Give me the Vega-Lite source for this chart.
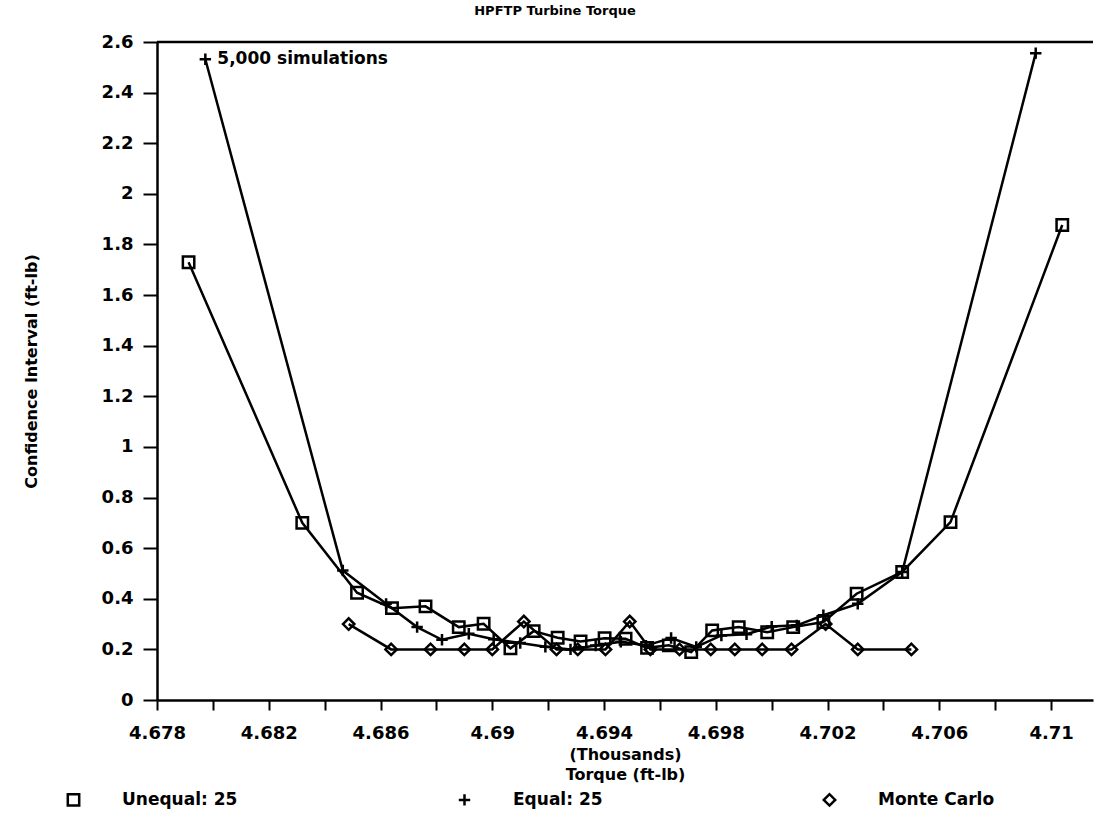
{
  "$schema": "https://vega.github.io/schema/vega-lite/v6.json",
  "width": 936,
  "height": 658,
  "autosize": "none",
  "padding": {"left": 157, "top": 42, "right": 2, "bottom": 114},
  "background": "white",
  "title": {"text": "HPFTP Turbine Torque", "font": "DejaVu Sans", "fontSize": 13, "fontWeight": "bold", "color": "black", "dx": -70, "offset": 15},
  "datasets": {
    "main": [
      {"series": "Unequal: 25", "torque": 4.67913, "ci": 1.73},
      {"series": "Unequal: 25", "torque": 4.6832, "ci": 0.70},
      {"series": "Unequal: 25", "torque": 4.68516, "ci": 0.424},
      {"series": "Unequal: 25", "torque": 4.68641, "ci": 0.363},
      {"series": "Unequal: 25", "torque": 4.68761, "ci": 0.37},
      {"series": "Unequal: 25", "torque": 4.6888, "ci": 0.288},
      {"series": "Unequal: 25", "torque": 4.68969, "ci": 0.301},
      {"series": "Unequal: 25", "torque": 4.69065, "ci": 0.204},
      {"series": "Unequal: 25", "torque": 4.69148, "ci": 0.272},
      {"series": "Unequal: 25", "torque": 4.69234, "ci": 0.246},
      {"series": "Unequal: 25", "torque": 4.69316, "ci": 0.231},
      {"series": "Unequal: 25", "torque": 4.69402, "ci": 0.244},
      {"series": "Unequal: 25", "torque": 4.69477, "ci": 0.242},
      {"series": "Unequal: 25", "torque": 4.69554, "ci": 0.206},
      {"series": "Unequal: 25", "torque": 4.69632, "ci": 0.216},
      {"series": "Unequal: 25", "torque": 4.69712, "ci": 0.189},
      {"series": "Unequal: 25", "torque": 4.69787, "ci": 0.275},
      {"series": "Unequal: 25", "torque": 4.69882, "ci": 0.288},
      {"series": "Unequal: 25", "torque": 4.69984, "ci": 0.268},
      {"series": "Unequal: 25", "torque": 4.70077, "ci": 0.288},
      {"series": "Unequal: 25", "torque": 4.70185, "ci": 0.308},
      {"series": "Unequal: 25", "torque": 4.70304, "ci": 0.42},
      {"series": "Unequal: 25", "torque": 4.70467, "ci": 0.506},
      {"series": "Unequal: 25", "torque": 4.7064, "ci": 0.703},
      {"series": "Unequal: 25", "torque": 4.7104, "ci": 1.877},
      {"series": "Equal: 25", "torque": 4.67973, "ci": 2.532},
      {"series": "Equal: 25", "torque": 4.68465, "ci": 0.512},
      {"series": "Equal: 25", "torque": 4.6862, "ci": 0.38},
      {"series": "Equal: 25", "torque": 4.68731, "ci": 0.288},
      {"series": "Equal: 25", "torque": 4.6882, "ci": 0.238},
      {"series": "Equal: 25", "torque": 4.68916, "ci": 0.262},
      {"series": "Equal: 25", "torque": 4.69005, "ci": 0.24},
      {"series": "Equal: 25", "torque": 4.691, "ci": 0.225},
      {"series": "Equal: 25", "torque": 4.6919, "ci": 0.21},
      {"series": "Equal: 25", "torque": 4.6928, "ci": 0.2},
      {"series": "Equal: 25", "torque": 4.6937, "ci": 0.215},
      {"series": "Equal: 25", "torque": 4.6946, "ci": 0.23},
      {"series": "Equal: 25", "torque": 4.6955, "ci": 0.215},
      {"series": "Equal: 25", "torque": 4.6964, "ci": 0.245},
      {"series": "Equal: 25", "torque": 4.6973, "ci": 0.21},
      {"series": "Equal: 25", "torque": 4.6982, "ci": 0.255},
      {"series": "Equal: 25", "torque": 4.6991, "ci": 0.26},
      {"series": "Equal: 25", "torque": 4.7, "ci": 0.29},
      {"series": "Equal: 25", "torque": 4.7009, "ci": 0.295},
      {"series": "Equal: 25", "torque": 4.70185, "ci": 0.335},
      {"series": "Equal: 25", "torque": 4.70308, "ci": 0.38},
      {"series": "Equal: 25", "torque": 4.70467, "ci": 0.506},
      {"series": "Equal: 25", "torque": 4.70945, "ci": 2.556},
      {"series": "Monte Carlo", "torque": 4.68486, "ci": 0.30},
      {"series": "Monte Carlo", "torque": 4.68638, "ci": 0.20},
      {"series": "Monte Carlo", "torque": 4.68779, "ci": 0.20},
      {"series": "Monte Carlo", "torque": 4.689, "ci": 0.20},
      {"series": "Monte Carlo", "torque": 4.69, "ci": 0.20},
      {"series": "Monte Carlo", "torque": 4.69113, "ci": 0.31},
      {"series": "Monte Carlo", "torque": 4.6923, "ci": 0.20},
      {"series": "Monte Carlo", "torque": 4.69306, "ci": 0.20},
      {"series": "Monte Carlo", "torque": 4.69405, "ci": 0.20},
      {"series": "Monte Carlo", "torque": 4.69492, "ci": 0.31},
      {"series": "Monte Carlo", "torque": 4.69566, "ci": 0.20},
      {"series": "Monte Carlo", "torque": 4.6967, "ci": 0.20},
      {"series": "Monte Carlo", "torque": 4.69782, "ci": 0.20},
      {"series": "Monte Carlo", "torque": 4.69868, "ci": 0.20},
      {"series": "Monte Carlo", "torque": 4.69966, "ci": 0.20},
      {"series": "Monte Carlo", "torque": 4.70071, "ci": 0.20},
      {"series": "Monte Carlo", "torque": 4.70193, "ci": 0.30},
      {"series": "Monte Carlo", "torque": 4.70308, "ci": 0.20},
      {"series": "Monte Carlo", "torque": 4.705, "ci": 0.20}
    ],
    "note": [
      {"torque": 4.67973, "ci": 2.532, "label": "5,000 simulations"}
    ],
    "frame": [
      {"ci": 2.6}
    ]
  },
  "layer": [
    {
      "data": {"name": "frame"},
      "mark": {"type": "rule", "color": "black", "strokeWidth": 2.5},
      "encoding": {
        "y": {"field": "ci", "type": "quantitative"}
      }
    },
    {
      "data": {"name": "main"},
      "mark": {"type": "line", "color": "black", "strokeWidth": 2.5},
      "encoding": {
        "x": {
          "field": "torque",
          "type": "quantitative",
          "scale": {"domain": [4.678, 4.7115], "nice": false, "zero": false},
          "axis": {
            "values": [4.678, 4.68, 4.682, 4.684, 4.686, 4.688, 4.69, 4.692, 4.694, 4.696, 4.698, 4.7, 4.702, 4.704, 4.706, 4.708, 4.71],
            "labelExpr": "round((datum.value - 4.678) * 1000) % 4 == 0 ? toString(round(datum.value * 1000) / 1000) : ''",
            "title": ["(Thousands)", "Torque (ft-lb)"],
            "titlePadding": 4,
            "titleLineHeight": 20,
            "labelPadding": 14,
            "tickSize": 10
          }
        },
        "y": {
          "field": "ci",
          "type": "quantitative",
          "scale": {"domain": [0, 2.6], "nice": false, "zero": false},
          "axis": {
            "values": [0, 0.2, 0.4, 0.6, 0.8, 1, 1.2, 1.4, 1.6, 1.8, 2, 2.2, 2.4, 2.6],
            "labelExpr": "toString(round(datum.value * 10) / 10)",
            "title": "Confidence Interval (ft-lb)",
            "titlePadding": 62,
            "labelPadding": 10,
            "tickSize": 14
          }
        },
        "detail": {"field": "series", "type": "nominal"}
      }
    },
    {
      "data": {"name": "main"},
      "mark": {"type": "point", "filled": false, "stroke": "black", "strokeWidth": 2.5, "size": 130, "opacity": 1},
      "encoding": {
        "x": {"field": "torque", "type": "quantitative"},
        "y": {"field": "ci", "type": "quantitative"},
        "shape": {
          "field": "series",
          "type": "nominal",
          "scale": {"domain": ["Unequal: 25", "Equal: 25", "Monte Carlo"], "range": ["square", "M-1,0H1M0,-1V1", "diamond"]},
          "legend": {
            "title": null,
            "orient": "none",
            "direction": "horizontal",
            "legendX": -92,
            "legendY": 749,
            "columnPadding": 215,
            "labelOffset": 40,
            "labelFont": "DejaVu Sans",
            "labelFontSize": 17,
            "labelFontWeight": "bold",
            "labelColor": "black",
            "symbolStrokeColor": "black",
            "symbolFillColor": "transparent",
            "symbolStrokeWidth": 2.5,
            "symbolSize": 130,
            "symbolOpacity": 1
          }
        }
      }
    },
    {
      "data": {"name": "note"},
      "mark": {"type": "text", "align": "left", "baseline": "middle", "dx": 12, "font": "DejaVu Sans", "fontSize": 17, "fontWeight": "bold", "color": "black"},
      "encoding": {
        "x": {"field": "torque", "type": "quantitative"},
        "y": {"field": "ci", "type": "quantitative"},
        "text": {"field": "label"}
      }
    }
  ],
  "config": {
    "view": {"stroke": null},
    "axis": {
      "grid": false,
      "domainColor": "black",
      "domainWidth": 2.5,
      "tickColor": "black",
      "tickWidth": 2,
      "labelFont": "DejaVu Sans",
      "labelFontSize": 18,
      "labelFontWeight": "bold",
      "labelColor": "black",
      "titleFont": "DejaVu Sans",
      "titleFontSize": 16,
      "titleFontWeight": "bold",
      "titleColor": "black",
      "labelFlush": false,
      "labelOverlap": false
    }
  }
}
